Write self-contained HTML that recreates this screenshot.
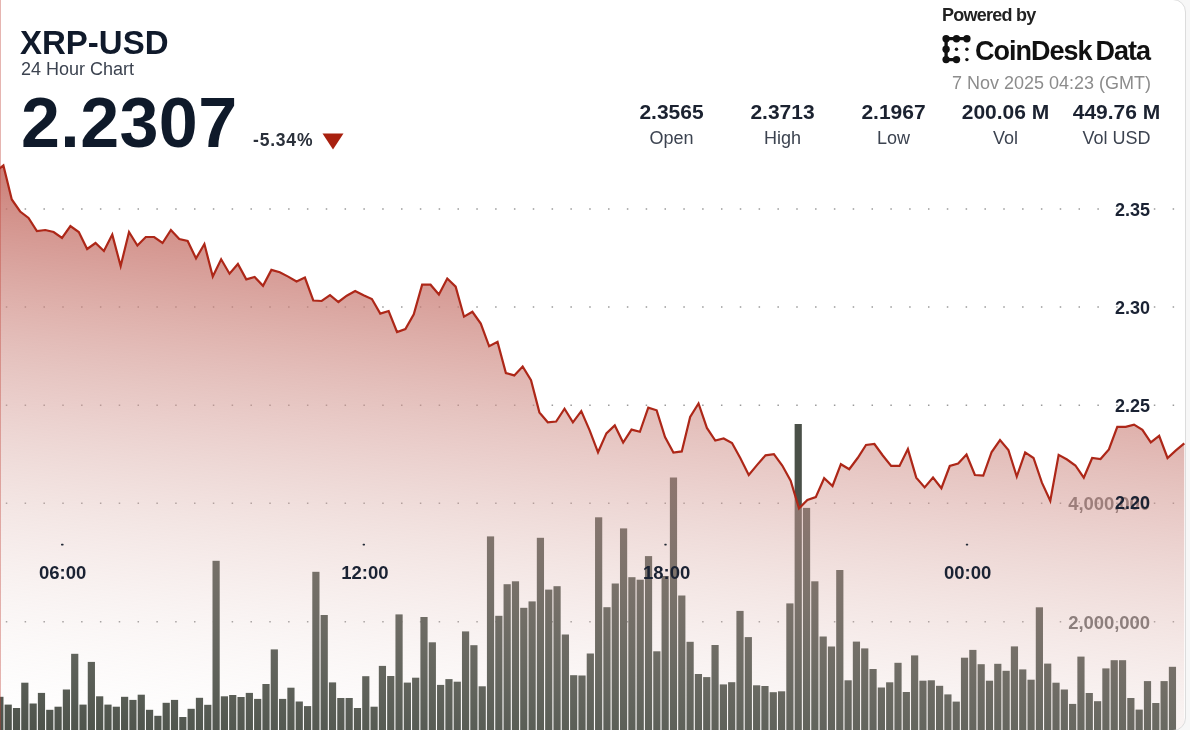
<!DOCTYPE html>
<html><head><meta charset="utf-8">
<style>
html,body{margin:0;padding:0;}
body{width:1190px;height:730px;overflow:hidden;background:#f7f7f7;position:relative;font-family:"Liberation Sans",sans-serif;}
.card{position:absolute;left:-20px;top:-1px;width:1206px;height:731.5px;box-sizing:border-box;border:1px solid #dcdcdc;border-radius:13px;background:#fff;overflow:hidden;}
.card svg{position:absolute;left:19px;top:0;will-change:transform;}
.t{position:absolute;white-space:nowrap;line-height:1;will-change:transform;}
</style></head><body>
<div class="card">
<svg width="1190" height="730" viewBox="0 0 1190 730">
<defs>
<linearGradient id="fg" gradientUnits="userSpaceOnUse" x1="30.00" y1="165.00" x2="-32.82" y2="736.09"><stop offset="0.000" stop-color="rgb(193,100,91)" stop-opacity="0.840"/><stop offset="0.050" stop-color="rgb(195,107,98)" stop-opacity="0.798"/><stop offset="0.100" stop-color="rgb(198,114,105)" stop-opacity="0.756"/><stop offset="0.150" stop-color="rgb(200,120,112)" stop-opacity="0.714"/><stop offset="0.200" stop-color="rgb(202,127,119)" stop-opacity="0.672"/><stop offset="0.250" stop-color="rgb(205,134,126)" stop-opacity="0.630"/><stop offset="0.300" stop-color="rgb(207,141,134)" stop-opacity="0.588"/><stop offset="0.350" stop-color="rgb(209,148,141)" stop-opacity="0.546"/><stop offset="0.400" stop-color="rgb(212,154,148)" stop-opacity="0.504"/><stop offset="0.450" stop-color="rgb(214,161,155)" stop-opacity="0.462"/><stop offset="0.500" stop-color="rgb(216,168,162)" stop-opacity="0.420"/><stop offset="0.550" stop-color="rgb(219,175,169)" stop-opacity="0.378"/><stop offset="0.600" stop-color="rgb(221,182,176)" stop-opacity="0.336"/><stop offset="0.650" stop-color="rgb(224,188,183)" stop-opacity="0.294"/><stop offset="0.700" stop-color="rgb(226,195,190)" stop-opacity="0.252"/><stop offset="0.750" stop-color="rgb(228,202,198)" stop-opacity="0.210"/><stop offset="0.800" stop-color="rgb(231,209,205)" stop-opacity="0.168"/><stop offset="0.850" stop-color="rgb(233,216,212)" stop-opacity="0.126"/><stop offset="0.900" stop-color="rgb(235,222,219)" stop-opacity="0.084"/><stop offset="0.950" stop-color="rgb(238,229,226)" stop-opacity="0.042"/><stop offset="1.000" stop-color="rgb(240,236,233)" stop-opacity="0.000"/></linearGradient>
</defs>
<g stroke="#9a9a9a" stroke-width="1.5" stroke-dasharray="1.5 17.32" fill="none"><line x1="5.8" y1="209.1" x2="1186" y2="209.1"/><line x1="5.8" y1="307.1" x2="1186" y2="307.1"/><line x1="5.8" y1="405.15" x2="1186" y2="405.15"/><line x1="5.8" y1="503.2" x2="1186" y2="503.2"/><line x1="5.8" y1="621.7" x2="1186" y2="621.7"/></g>
<g fill="#626262" font-family="Liberation Sans" font-weight="700" font-size="18.5" letter-spacing="-0.05" text-anchor="end">
<text x="1150" y="510.3">4,000,000</text>
<text x="1150" y="628.6">2,000,000</text>
</g>
<g fill="#4a5048"><rect x="-3.72" y="696.80" width="7.2" height="48.20"/><rect x="4.60" y="704.60" width="7.2" height="40.40"/><rect x="12.92" y="708.00" width="7.2" height="37.00"/><rect x="21.23" y="682.70" width="7.2" height="62.30"/><rect x="29.55" y="703.50" width="7.2" height="41.50"/><rect x="37.86" y="692.90" width="7.2" height="52.10"/><rect x="46.18" y="709.80" width="7.2" height="35.20"/><rect x="54.50" y="706.70" width="7.2" height="38.30"/><rect x="62.81" y="689.50" width="7.2" height="55.50"/><rect x="71.13" y="653.80" width="7.2" height="91.20"/><rect x="79.44" y="704.60" width="7.2" height="40.40"/><rect x="87.76" y="661.90" width="7.2" height="83.10"/><rect x="96.08" y="696.30" width="7.2" height="48.70"/><rect x="104.39" y="704.60" width="7.2" height="40.40"/><rect x="112.71" y="706.70" width="7.2" height="38.30"/><rect x="121.02" y="696.80" width="7.2" height="48.20"/><rect x="129.34" y="699.90" width="7.2" height="45.10"/><rect x="137.66" y="694.70" width="7.2" height="50.30"/><rect x="145.97" y="709.80" width="7.2" height="35.20"/><rect x="154.29" y="715.80" width="7.2" height="29.20"/><rect x="162.60" y="702.80" width="7.2" height="42.20"/><rect x="170.92" y="699.90" width="7.2" height="45.10"/><rect x="179.24" y="717.00" width="7.2" height="28.00"/><rect x="187.55" y="708.80" width="7.2" height="36.20"/><rect x="195.87" y="697.80" width="7.2" height="47.20"/><rect x="204.18" y="704.80" width="7.2" height="40.20"/><rect x="212.50" y="560.80" width="7.2" height="184.20"/><rect x="220.82" y="696.30" width="7.2" height="48.70"/><rect x="229.13" y="695.00" width="7.2" height="50.00"/><rect x="237.45" y="697.00" width="7.2" height="48.00"/><rect x="245.76" y="692.90" width="7.2" height="52.10"/><rect x="254.08" y="698.90" width="7.2" height="46.10"/><rect x="262.40" y="684.00" width="7.2" height="61.00"/><rect x="270.71" y="649.40" width="7.2" height="95.60"/><rect x="279.03" y="698.90" width="7.2" height="46.10"/><rect x="287.34" y="687.70" width="7.2" height="57.30"/><rect x="295.66" y="701.50" width="7.2" height="43.50"/><rect x="303.98" y="706.10" width="7.2" height="38.90"/><rect x="312.29" y="571.80" width="7.2" height="173.20"/><rect x="320.61" y="615.00" width="7.2" height="130.00"/><rect x="328.92" y="682.40" width="7.2" height="62.60"/><rect x="337.24" y="698.00" width="7.2" height="47.00"/><rect x="345.56" y="698.00" width="7.2" height="47.00"/><rect x="353.87" y="708.00" width="7.2" height="37.00"/><rect x="362.19" y="676.20" width="7.2" height="68.80"/><rect x="370.50" y="706.70" width="7.2" height="38.30"/><rect x="378.82" y="665.90" width="7.2" height="79.10"/><rect x="387.14" y="676.00" width="7.2" height="69.00"/><rect x="395.45" y="614.40" width="7.2" height="130.60"/><rect x="403.77" y="682.60" width="7.2" height="62.40"/><rect x="412.08" y="677.70" width="7.2" height="67.30"/><rect x="420.40" y="617.00" width="7.2" height="128.00"/><rect x="428.72" y="642.30" width="7.2" height="102.70"/><rect x="437.03" y="684.90" width="7.2" height="60.10"/><rect x="445.35" y="679.10" width="7.2" height="65.90"/><rect x="453.66" y="681.70" width="7.2" height="63.30"/><rect x="461.98" y="631.40" width="7.2" height="113.60"/><rect x="470.30" y="645.20" width="7.2" height="99.80"/><rect x="478.61" y="686.30" width="7.2" height="58.70"/><rect x="486.93" y="536.40" width="7.2" height="208.60"/><rect x="495.24" y="615.80" width="7.2" height="129.20"/><rect x="503.56" y="584.20" width="7.2" height="160.80"/><rect x="511.88" y="581.30" width="7.2" height="163.70"/><rect x="520.19" y="607.80" width="7.2" height="137.20"/><rect x="528.51" y="601.40" width="7.2" height="143.60"/><rect x="536.82" y="537.80" width="7.2" height="207.20"/><rect x="545.14" y="589.60" width="7.2" height="155.40"/><rect x="553.46" y="586.20" width="7.2" height="158.80"/><rect x="561.77" y="634.50" width="7.2" height="110.50"/><rect x="570.09" y="675.20" width="7.2" height="69.80"/><rect x="578.40" y="675.50" width="7.2" height="69.50"/><rect x="586.72" y="653.50" width="7.2" height="91.50"/><rect x="595.04" y="517.30" width="7.2" height="227.70"/><rect x="603.35" y="607.20" width="7.2" height="137.80"/><rect x="611.67" y="583.50" width="7.2" height="161.50"/><rect x="619.98" y="528.40" width="7.2" height="216.60"/><rect x="628.30" y="577.20" width="7.2" height="167.80"/><rect x="636.62" y="579.70" width="7.2" height="165.30"/><rect x="644.93" y="556.10" width="7.2" height="188.90"/><rect x="653.25" y="651.30" width="7.2" height="93.70"/><rect x="661.56" y="576.00" width="7.2" height="169.00"/><rect x="669.88" y="477.50" width="7.2" height="267.50"/><rect x="678.20" y="595.50" width="7.2" height="149.50"/><rect x="686.51" y="641.80" width="7.2" height="103.20"/><rect x="694.83" y="674.00" width="7.2" height="71.00"/><rect x="703.14" y="677.10" width="7.2" height="67.90"/><rect x="711.46" y="645.00" width="7.2" height="100.00"/><rect x="719.78" y="684.40" width="7.2" height="60.60"/><rect x="728.09" y="682.20" width="7.2" height="62.80"/><rect x="736.41" y="610.90" width="7.2" height="134.10"/><rect x="744.72" y="637.10" width="7.2" height="107.90"/><rect x="753.04" y="685.30" width="7.2" height="59.70"/><rect x="761.36" y="686.00" width="7.2" height="59.00"/><rect x="769.67" y="692.20" width="7.2" height="52.80"/><rect x="777.99" y="691.30" width="7.2" height="53.70"/><rect x="786.30" y="603.40" width="7.2" height="141.60"/><rect x="794.62" y="424.00" width="7.2" height="321.00"/><rect x="802.94" y="507.90" width="7.2" height="237.10"/><rect x="811.25" y="581.30" width="7.2" height="163.70"/><rect x="819.57" y="636.50" width="7.2" height="108.50"/><rect x="827.88" y="646.50" width="7.2" height="98.50"/><rect x="836.20" y="570.00" width="7.2" height="175.00"/><rect x="844.52" y="680.30" width="7.2" height="64.70"/><rect x="852.83" y="641.60" width="7.2" height="103.40"/><rect x="861.15" y="648.40" width="7.2" height="96.60"/><rect x="869.46" y="669.00" width="7.2" height="76.00"/><rect x="877.78" y="687.50" width="7.2" height="57.50"/><rect x="886.10" y="682.30" width="7.2" height="62.70"/><rect x="894.41" y="662.80" width="7.2" height="82.20"/><rect x="902.73" y="692.00" width="7.2" height="53.00"/><rect x="911.04" y="655.40" width="7.2" height="89.60"/><rect x="919.36" y="680.70" width="7.2" height="64.30"/><rect x="927.68" y="680.30" width="7.2" height="64.70"/><rect x="935.99" y="685.80" width="7.2" height="59.20"/><rect x="944.31" y="694.40" width="7.2" height="50.60"/><rect x="952.62" y="701.60" width="7.2" height="43.40"/><rect x="960.94" y="657.70" width="7.2" height="87.30"/><rect x="969.26" y="649.90" width="7.2" height="95.10"/><rect x="977.57" y="664.20" width="7.2" height="80.80"/><rect x="985.89" y="680.70" width="7.2" height="64.30"/><rect x="994.20" y="663.80" width="7.2" height="81.20"/><rect x="1002.52" y="670.80" width="7.2" height="74.20"/><rect x="1010.84" y="646.40" width="7.2" height="98.60"/><rect x="1019.15" y="669.40" width="7.2" height="75.60"/><rect x="1027.47" y="679.70" width="7.2" height="65.30"/><rect x="1035.78" y="607.30" width="7.2" height="137.70"/><rect x="1044.10" y="663.60" width="7.2" height="81.40"/><rect x="1052.42" y="682.70" width="7.2" height="62.30"/><rect x="1060.73" y="689.50" width="7.2" height="55.50"/><rect x="1069.05" y="703.90" width="7.2" height="41.10"/><rect x="1077.36" y="656.60" width="7.2" height="88.40"/><rect x="1085.68" y="693.00" width="7.2" height="52.00"/><rect x="1094.00" y="701.20" width="7.2" height="43.80"/><rect x="1102.31" y="668.40" width="7.2" height="76.60"/><rect x="1110.63" y="660.20" width="7.2" height="84.80"/><rect x="1118.94" y="660.20" width="7.2" height="84.80"/><rect x="1127.26" y="698.00" width="7.2" height="47.00"/><rect x="1135.58" y="709.60" width="7.2" height="35.40"/><rect x="1143.89" y="681.10" width="7.2" height="63.90"/><rect x="1152.21" y="703.00" width="7.2" height="42.00"/><rect x="1160.52" y="681.10" width="7.2" height="63.90"/><rect x="1168.84" y="666.80" width="7.2" height="78.20"/></g>
<path d="M-6.00,173.00 L3.40,165.50 L11.78,199.50 L20.15,211.50 L28.52,218.00 L36.90,231.00 L45.27,230.00 L53.65,232.00 L62.02,238.00 L70.40,226.00 L78.78,232.00 L87.15,249.00 L95.53,243.00 L103.90,251.00 L112.28,234.60 L120.65,266.00 L129.03,232.00 L137.40,245.50 L145.78,237.00 L154.15,237.00 L162.53,243.00 L170.90,230.00 L179.28,239.00 L187.65,241.00 L196.03,258.40 L204.40,244.00 L212.78,276.60 L221.15,259.30 L229.53,273.70 L237.90,264.00 L246.28,279.40 L254.65,277.00 L263.02,285.80 L271.40,269.90 L279.77,272.20 L288.15,276.60 L296.52,281.40 L304.90,277.50 L313.27,300.50 L321.65,301.00 L330.02,295.20 L338.40,302.00 L346.77,295.70 L355.15,291.00 L363.52,295.20 L371.90,299.00 L380.27,313.60 L388.65,311.00 L397.02,332.00 L405.40,329.00 L413.77,314.30 L422.15,284.70 L430.52,284.70 L438.90,294.50 L447.27,278.50 L455.65,286.60 L464.02,316.70 L472.40,311.80 L480.77,323.60 L489.15,346.30 L497.52,341.90 L505.90,373.00 L514.27,375.40 L522.65,366.50 L531.02,380.30 L539.40,412.40 L547.77,422.30 L556.15,421.50 L564.52,408.70 L572.90,422.30 L581.27,411.10 L589.65,430.40 L598.02,452.30 L606.40,433.40 L614.77,425.40 L623.15,442.50 L631.52,429.60 L639.90,431.80 L648.27,407.70 L656.65,410.30 L665.02,437.10 L673.40,452.60 L681.77,451.40 L690.15,417.00 L698.52,403.50 L706.90,427.90 L715.27,440.50 L723.65,438.50 L732.02,443.00 L740.40,458.20 L748.77,475.00 L757.15,464.90 L765.52,455.30 L773.90,454.10 L782.27,465.50 L790.65,480.70 L799.02,508.40 L807.40,500.00 L815.77,497.10 L824.15,478.20 L832.52,486.00 L840.90,464.20 L849.27,469.20 L857.65,458.00 L866.02,445.00 L874.40,444.00 L882.77,455.50 L891.15,465.90 L899.52,465.90 L907.90,449.10 L916.27,477.60 L924.65,487.40 L933.02,477.60 L941.40,488.20 L949.77,466.00 L958.15,463.50 L966.52,454.50 L974.90,475.00 L983.27,475.60 L991.65,452.00 L1000.02,440.00 L1008.40,450.00 L1016.77,476.60 L1025.15,452.40 L1033.53,458.00 L1041.90,482.70 L1050.28,500.80 L1058.65,454.90 L1067.03,459.50 L1075.40,465.50 L1083.78,477.70 L1092.15,458.00 L1100.53,459.00 L1108.90,449.40 L1117.28,426.80 L1125.65,426.80 L1134.03,424.60 L1142.40,429.90 L1150.78,442.40 L1159.15,435.90 L1167.53,458.00 L1175.90,450.40 L1184.28,443.40 L1184.28,745 L-6.00,745 Z" fill="url(#fg)"/>
<line x1="0.5" y1="0" x2="0.5" y2="730" stroke="rgba(190,60,50,0.38)" stroke-width="1"/>
<path d="M-6.00,173.00 L3.40,165.50 L11.78,199.50 L20.15,211.50 L28.52,218.00 L36.90,231.00 L45.27,230.00 L53.65,232.00 L62.02,238.00 L70.40,226.00 L78.78,232.00 L87.15,249.00 L95.53,243.00 L103.90,251.00 L112.28,234.60 L120.65,266.00 L129.03,232.00 L137.40,245.50 L145.78,237.00 L154.15,237.00 L162.53,243.00 L170.90,230.00 L179.28,239.00 L187.65,241.00 L196.03,258.40 L204.40,244.00 L212.78,276.60 L221.15,259.30 L229.53,273.70 L237.90,264.00 L246.28,279.40 L254.65,277.00 L263.02,285.80 L271.40,269.90 L279.77,272.20 L288.15,276.60 L296.52,281.40 L304.90,277.50 L313.27,300.50 L321.65,301.00 L330.02,295.20 L338.40,302.00 L346.77,295.70 L355.15,291.00 L363.52,295.20 L371.90,299.00 L380.27,313.60 L388.65,311.00 L397.02,332.00 L405.40,329.00 L413.77,314.30 L422.15,284.70 L430.52,284.70 L438.90,294.50 L447.27,278.50 L455.65,286.60 L464.02,316.70 L472.40,311.80 L480.77,323.60 L489.15,346.30 L497.52,341.90 L505.90,373.00 L514.27,375.40 L522.65,366.50 L531.02,380.30 L539.40,412.40 L547.77,422.30 L556.15,421.50 L564.52,408.70 L572.90,422.30 L581.27,411.10 L589.65,430.40 L598.02,452.30 L606.40,433.40 L614.77,425.40 L623.15,442.50 L631.52,429.60 L639.90,431.80 L648.27,407.70 L656.65,410.30 L665.02,437.10 L673.40,452.60 L681.77,451.40 L690.15,417.00 L698.52,403.50 L706.90,427.90 L715.27,440.50 L723.65,438.50 L732.02,443.00 L740.40,458.20 L748.77,475.00 L757.15,464.90 L765.52,455.30 L773.90,454.10 L782.27,465.50 L790.65,480.70 L799.02,508.40 L807.40,500.00 L815.77,497.10 L824.15,478.20 L832.52,486.00 L840.90,464.20 L849.27,469.20 L857.65,458.00 L866.02,445.00 L874.40,444.00 L882.77,455.50 L891.15,465.90 L899.52,465.90 L907.90,449.10 L916.27,477.60 L924.65,487.40 L933.02,477.60 L941.40,488.20 L949.77,466.00 L958.15,463.50 L966.52,454.50 L974.90,475.00 L983.27,475.60 L991.65,452.00 L1000.02,440.00 L1008.40,450.00 L1016.77,476.60 L1025.15,452.40 L1033.53,458.00 L1041.90,482.70 L1050.28,500.80 L1058.65,454.90 L1067.03,459.50 L1075.40,465.50 L1083.78,477.70 L1092.15,458.00 L1100.53,459.00 L1108.90,449.40 L1117.28,426.80 L1125.65,426.80 L1134.03,424.60 L1142.40,429.90 L1150.78,442.40 L1159.15,435.90 L1167.53,458.00 L1175.90,450.40 L1184.28,443.40" fill="none" stroke="#ad2718" stroke-width="2.2" stroke-linejoin="miter" stroke-miterlimit="10" stroke-linecap="butt"/>
<g fill="#1a2233" font-family="Liberation Sans" font-weight="700" font-size="18" text-anchor="end">
<text x="1150" y="215.5">2.35</text>
<text x="1150" y="313.9">2.30</text>
<text x="1150" y="412">2.25</text>
<text x="1150" y="509">2.20</text>
</g>
<g fill="#1a2233" font-family="Liberation Sans" font-weight="700" font-size="18.5" text-anchor="middle">
<text x="62.7" y="579.3">06:00</text>
<text x="364.9" y="579.3">12:00</text>
<text x="666.7" y="579.3">18:00</text>
<text x="967.6" y="579.3">00:00</text>
</g>
<g fill="#222a36">
<rect x="61" y="543.8" width="2.6" height="1.6" rx="0.6"/>
<rect x="362.6" y="543.8" width="2.4" height="1.6" rx="0.6"/>
<rect x="664.3" y="543.8" width="2.4" height="1.6" rx="0.6"/>
<rect x="965.8" y="543.8" width="2.4" height="1.6" rx="0.6"/>
</g>
</svg>
</div>

<div class="t" style="left:20px;top:25.5px;font-size:33px;font-weight:700;color:#101a2b;">XRP-USD</div>
<div class="t" style="left:20.5px;top:60px;font-size:18px;color:#3c4350;">24 Hour Chart</div>
<div class="t" style="left:21px;top:87.5px;font-size:70px;letter-spacing:0.4px;font-weight:700;color:#0f1a2a;">2.2307</div>
<div class="t" style="left:253px;top:132px;font-size:17.5px;font-weight:700;color:#2a303a;letter-spacing:0.8px;">-5.34%</div>
<svg class="t" style="left:322px;top:133px" width="22" height="17"><path d="M0.5,0.5 L21.5,0.5 L11,16.5 Z" fill="#a8200f"/></svg>

<div class="t" style="left:942px;top:6px;font-size:18px;font-weight:700;color:#222;letter-spacing:-0.75px;">Powered by</div>
<svg class="t" style="left:940px;top:33px" width="34" height="32" viewBox="0 0 34 32">
<g fill="#111" stroke="#111">
<path d="M6.1,5.7 H26.9 M6.1,5.7 V26.6 H16.5" stroke-width="3.3" fill="none"/>
<circle cx="6.1" cy="5.7" r="3.7" stroke="none"/><circle cx="16.5" cy="5.7" r="3.7" stroke="none"/><circle cx="26.9" cy="5.7" r="3.7" stroke="none"/>
<circle cx="6.1" cy="16.2" r="3.7" stroke="none"/>
<circle cx="6.1" cy="26.6" r="3.7" stroke="none"/><circle cx="16.5" cy="26.6" r="3.7" stroke="none"/>
<circle cx="16.5" cy="16.2" r="1.7" stroke="none"/><circle cx="26.9" cy="16.2" r="1.7" stroke="none"/><circle cx="26.9" cy="26.6" r="1.7" stroke="none"/>
</g></svg>
<div class="t" style="left:975px;top:37.5px;font-size:27px;font-weight:700;color:#111;letter-spacing:-1px;">CoinDesk<span style="margin-left:4px">Data</span></div>
<div class="t" style="left:952px;top:74px;font-size:18px;color:#8c8c8c;">7 Nov 2025 04:23 (GMT)</div>

<div class="t" style="left:616px;top:100.5px;width:111px;text-align:center;font-size:21px;font-weight:700;color:#1b2230;">2.3565</div>
<div class="t" style="left:616px;top:129px;width:111px;text-align:center;font-size:18px;color:#3c4350;">Open</div>
<div class="t" style="left:727px;top:100.5px;width:111px;text-align:center;font-size:21px;font-weight:700;color:#1b2230;">2.3713</div>
<div class="t" style="left:727px;top:129px;width:111px;text-align:center;font-size:18px;color:#3c4350;">High</div>
<div class="t" style="left:838px;top:100.5px;width:111px;text-align:center;font-size:21px;font-weight:700;color:#1b2230;">2.1967</div>
<div class="t" style="left:838px;top:129px;width:111px;text-align:center;font-size:18px;color:#3c4350;">Low</div>
<div class="t" style="left:950px;top:100.5px;width:111px;text-align:center;font-size:21px;font-weight:700;color:#1b2230;">200.06 M</div>
<div class="t" style="left:950px;top:129px;width:111px;text-align:center;font-size:18px;color:#3c4350;">Vol</div>
<div class="t" style="left:1061px;top:100.5px;width:111px;text-align:center;font-size:21px;font-weight:700;color:#1b2230;">449.76 M</div>
<div class="t" style="left:1061px;top:129px;width:111px;text-align:center;font-size:18px;color:#3c4350;">Vol USD</div>
</body></html>
